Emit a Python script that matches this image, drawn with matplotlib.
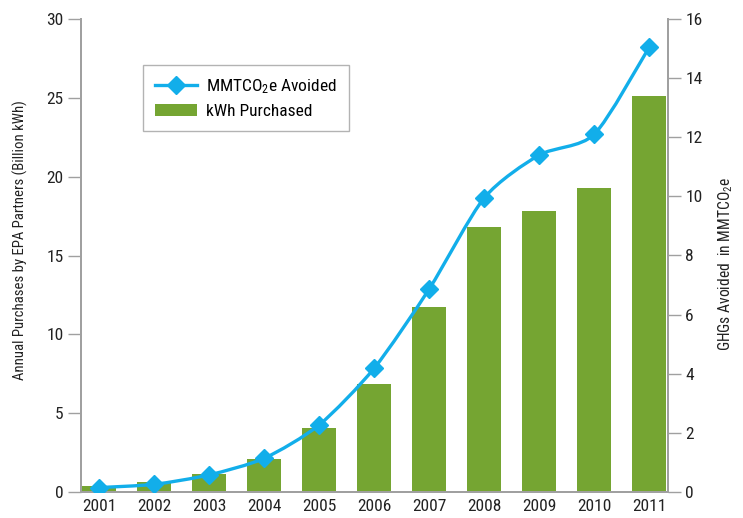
import matplotlib
matplotlib.use("Agg")
import matplotlib.pyplot as plt
from matplotlib.path import Path
from matplotlib.patches import PathPatch
from matplotlib.lines import Line2D
from matplotlib.patches import Patch
import numpy as np

years = ["2001", "2002", "2003", "2004", "2005", "2006", "2007", "2008", "2009", "2010", "2011"]
kwh_purchased = [0.4, 0.65, 1.12, 2.1, 4.05, 6.85, 11.73, 16.8, 17.82, 19.28, 25.1]
mmtco2e_avoided = [0.15, 0.26, 0.58, 1.14, 2.27, 4.19, 6.87, 9.95, 11.4, 12.1, 15.05]

left_ticks = [0, 5, 10, 15, 20, 25, 30]
right_ticks = [0, 2, 4, 6, 8, 10, 12, 14, 16]

GREEN = "#75A532"
BLUE = "#12AEEA"
GRAY = "#A0A0A0"
TEXT = "#222222"

plt.rcParams['font.family'] = ['Roboto Condensed', 'DejaVu Sans']
plt.rcParams['font.stretch'] = 'condensed'
plt.rcParams['mathtext.fontset'] = 'custom'
plt.rcParams['mathtext.rm'] = 'Roboto Condensed'
plt.rcParams['mathtext.it'] = 'Roboto Condensed'

fig = plt.figure(figsize=(7.43, 5.18), dpi=100)
ax = fig.add_axes([81/743, 26/518, 587/743, 473/518])
ax2 = ax.twinx()

x = np.arange(len(years))
ax.bar(x, kwh_purchased, width=0.62, color=GREEN, zorder=2)

# smooth line through the points (gentle cardinal spline rendered as Bezier path)
pts = np.column_stack([x, mmtco2e_avoided]).astype(float)
verts = [tuple(pts[0])]
codes = [Path.MOVETO]
n = len(pts)
k = 1.0 / 8.0
for i in range(n - 1):
    p0 = pts[i - 1] if i > 0 else pts[i]
    p1 = pts[i]
    p2 = pts[i + 1]
    p3 = pts[i + 2] if i + 2 < n else pts[i + 1]
    c1 = p1 + (p2 - p0) * k
    c2 = p2 - (p3 - p1) * k
    verts += [tuple(c1), tuple(c2), tuple(p2)]
    codes += [Path.CURVE4] * 3
ax2.add_patch(PathPatch(Path(verts, codes), facecolor='none', edgecolor=BLUE, lw=2.4, zorder=3))
ax2.plot(x, mmtco2e_avoided, linestyle='none', marker='D', markersize=9, color=BLUE, zorder=4)

ax.set_xlim(-0.33, 10.34)
ax.set_ylim(0, 30)
ax2.set_ylim(0, 16)
ax.set_yticks(left_ticks)
ax2.set_yticks(right_ticks)
ax.set_xticks(x)
ax.set_xticklabels(years)

FS = 12.5
for a in (ax, ax2):
    a.spines['top'].set_visible(False)
    for s in ('left', 'right', 'bottom'):
        a.spines[s].set_color(GRAY)
        a.spines[s].set_linewidth(1.3)
ax.tick_params(axis='y', length=9.5, width=1.0, color=GRAY, labelsize=FS, labelcolor=TEXT, pad=3)
ax2.tick_params(axis='y', length=9.5, width=1.0, color=GRAY, labelsize=FS, labelcolor=TEXT, pad=3)
ax.tick_params(axis='x', length=0, labelsize=FS, labelcolor=TEXT, pad=5)

ax.set_ylabel("Annual Purchases by EPA Partners (Billion kWh)", fontsize=10.6, color=TEXT)
ax.yaxis.set_label_coords(-53/587, 0.533)
ax2.set_ylabel(r"GHGs Avoided  in MMTCO$_2$e", fontsize=11.2, color=TEXT)
ax2.yaxis.set_label_coords(1 + 48/587, 0.482)

handles = [Line2D([0], [0], color=BLUE, lw=2.4, marker='D', markersize=9),
           Patch(facecolor=GREEN)]
labels = [r"MMTCO$_2$e Avoided", "kWh Purchased"]
leg = ax2.legend(handles, labels, loc='upper left', bbox_to_anchor=(0.106, 0.903),
                 borderaxespad=0.0,
                 frameon=True, fancybox=False, edgecolor=GRAY, fontsize=12.5,
                 handlelength=2.4, borderpad=0.7, labelspacing=0.45, handletextpad=0.5)
leg.get_frame().set_linewidth(1.0)

fig.savefig("out.png", dpi=100)
